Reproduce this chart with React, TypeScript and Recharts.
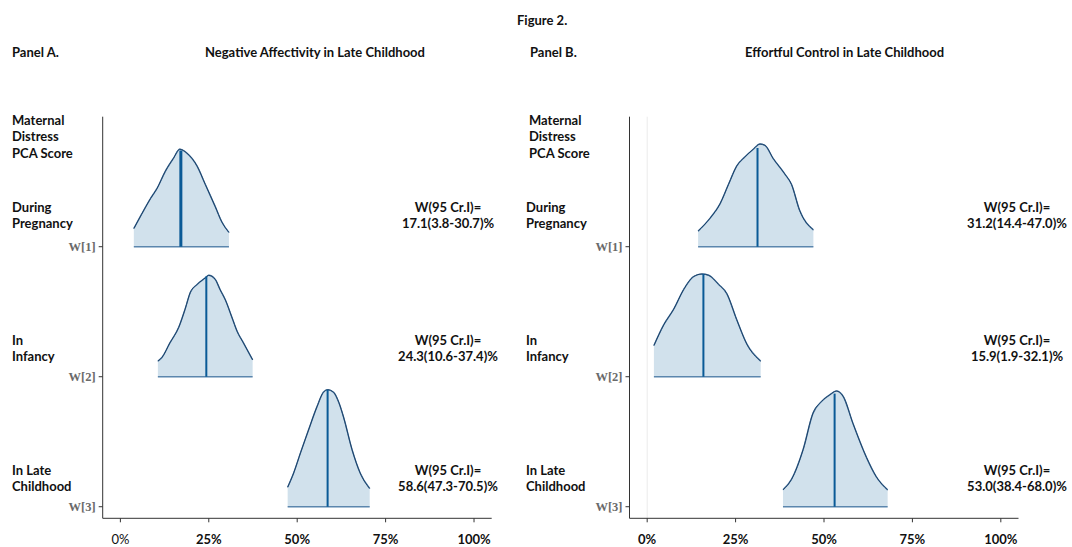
import React from 'react';
import { ComposedChart, Area, Line, XAxis, YAxis, ReferenceLine } from 'recharts';

// posterior weight densities, x in %, density scaled so that ridge spacing = 1
const pctTicks = [0, 25, 50, 75, 100];
const paramTicks = [1, 2, 3];
const paramNames: Record<number, string> = { 1: 'W[3]', 2: 'W[2]', 3: 'W[1]' };

// Panel A - Negative Affectivity
const naW1X = [3.8, 6.0, 8.5, 10.4, 12.7, 15.0, 16.8, 18.8, 21.7, 24.0, 26.8, 28.7, 30.7];
const naW1D = [0.14, 0.25, 0.37, 0.45, 0.58, 0.68, 0.75, 0.72, 0.62, 0.48, 0.31, 0.19, 0.11];
const naW2X = [10.6, 11.8, 14.0, 16.5, 18.3, 19.8, 21.7, 24.0, 25.0, 26.8, 28.2, 29.7, 31.5, 33.0, 34.8, 37.4];
const naW2D = [0.12, 0.15, 0.26, 0.38, 0.52, 0.65, 0.71, 0.76, 0.78, 0.75, 0.67, 0.59, 0.46, 0.35, 0.26, 0.13];
const naW3X = [47.3, 49.0, 51.0, 53.2, 55.6, 57.4, 58.6, 60.3, 61.8, 63.1, 65.5, 67.8, 70.5];
const naW3D = [0.15, 0.26, 0.42, 0.59, 0.77, 0.88, 0.9, 0.88, 0.8, 0.69, 0.44, 0.26, 0.14];
const naMedians = [17.1, 24.3, 58.6];
const naMedianD = [0.74, 0.77, 0.9];
const naLabels = ['17.1(3.8-30.7)%', '24.3(10.6-37.4)%', '58.6(47.3-70.5)%'];

// Panel B - Effortful Control
const ecW1X = [14.4, 17.8, 20.6, 23.0, 25.3, 27.6, 30.0, 31.9, 33.3, 35.6, 38.9, 40.8, 43.1, 47.0];
const ecW1D = [0.12, 0.22, 0.33, 0.48, 0.62, 0.69, 0.75, 0.79, 0.78, 0.68, 0.56, 0.48, 0.28, 0.13];
const ecW2X = [1.9, 4.7, 7.5, 10.3, 13.1, 15.5, 17.4, 20.2, 22.5, 25.3, 28.2, 32.1];
const ecW2D = [0.24, 0.4, 0.52, 0.67, 0.77, 0.79, 0.78, 0.71, 0.64, 0.44, 0.25, 0.12];
const ecW3X = [38.4, 40.8, 44.1, 46.9, 49.3, 51.6, 53.5, 55.4, 58.2, 62.0, 64.8, 68.0];
const ecW3D = [0.13, 0.21, 0.44, 0.72, 0.81, 0.86, 0.89, 0.85, 0.64, 0.38, 0.23, 0.13];
const ecMedians = [31.2, 15.9, 53.0];
const ecMedianD = [0.76, 0.79, 0.87];
const ecLabels = ['31.2(14.4-47.0)%', '15.9(1.9-32.1)%', '53.0(38.4-68.0)%'];

const rowTitles = [['During', 'Pregnancy'], ['In', 'Infancy'], ['In Late', 'Childhood']];
const rowTextY = [199, 332, 462];

const FONT = 'Lato, "Open Sans", sans-serif';

type Ridge = { xs: number[]; ds: number[]; base: number; median: number; medD: number; medWidth: number };

const makeRidges = (xs: number[][], ds: number[][], medians: number[], medD: number[], widths: number[]): Ridge[] =>
  xs.map((x, i) => ({ xs: x, ds: ds[i], base: 3 - i, median: medians[i], medD: medD[i], medWidth: widths[i] }));

const PctTick = (props: any) => {
  const { x, y, payload, lightZero } = props;
  return (
    <text x={x} y={y} dy="0.71em" textAnchor="middle" fill="#111" fontSize={13} fontFamily={FONT}
      fontWeight={lightZero && payload.value === 0 ? 400 : 700}>
      {`${payload.value}%`}
    </text>
  );
};

type PanelProps = { ridges: Ridge[]; left: number; right: number; lightZero?: boolean; zeroLine?: boolean };

const Panel = ({ ridges, left, right, lightZero, zeroLine }: PanelProps) => (
  <ComposedChart width={536} height={547} margin={{ top: 116.7, right, bottom: 3.7, left }}>
    <XAxis type="number" dataKey="x" domain={[-5, 105]} ticks={pctTicks} allowDataOverflow height={25}
      tickSize={4} tickMargin={12} stroke="#333" tick={<PctTick lightZero={lightZero} />} />
    <YAxis type="number" domain={[0.911, 4]} ticks={paramTicks} allowDataOverflow width={60}
      tickSize={4} tickMargin={3} stroke="#333"
      tickFormatter={(v: number) => paramNames[v]}
      tick={{ fill: '#6a6a6a', fontSize: 12.5, fontFamily: '"Liberation Serif", serif', fontWeight: 700 }} />
    {zeroLine && <ReferenceLine x={0} stroke="#ebebeb" strokeWidth={1} />}
    {ridges.map((r, i) => {
      const rows = r.xs.map((x, j) => ({ x, d: r.ds[j] }));
      const med = [{ x: r.median, y: r.base }, { x: r.median, y: r.base + r.medD }];
      return [
        <Area key={`a${i}`} data={rows} type="monotone" dataKey={(p: any) => [r.base, r.base + p.d]}
          stroke="#5b86ad" strokeWidth={1.5} fill="#d1e1ec" fillOpacity={1} dot={false} activeDot={false}
          isAnimationActive={false} />,
        <Line key={`l${i}`} data={rows} type="monotone" dataKey={(p: any) => r.base + p.d}
          stroke="#1b3f66" strokeWidth={1} dot={false} activeDot={false} isAnimationActive={false} />,
        <Line key={`m${i}`} data={med} type="linear" dataKey="y"
          stroke="#0a5a96" strokeWidth={r.medWidth} dot={false} activeDot={false} isAnimationActive={false} />,
      ];
    })}
  </ComposedChart>
);

const Txt = ({ x, y, lines, center }: { x: number; y: number; lines: string[]; center?: boolean }) => (
  <div style={{
    position: 'absolute', left: center ? x - 80 : x, top: y, width: center ? 160 : undefined,
    textAlign: center ? 'center' : 'left', font: `700 13px ${FONT}`, lineHeight: '16.3px',
    color: '#111', whiteSpace: 'nowrap',
  }}>
    {lines.map((l) => <div key={l}>{l}</div>)}
  </div>
);

export default function App() {
  const naRidges = makeRidges([naW1X, naW2X, naW3X], [naW1D, naW2D, naW3D], naMedians, naMedianD, [3, 2, 2]);
  const ecRidges = makeRidges([ecW1X, ecW2X, ecW3X], [ecW1D, ecW2D, ecW3D], ecMedians, ecMedianD, [2, 2, 2]);
  return (
    <div style={{ position: 'absolute', left: 0, top: 0, width: 1072, height: 547, background: '#fff', overflow: 'hidden' }}>
      <div style={{ position: 'absolute', left: 0, top: 0 }}>
        <Panel ridges={naRidges} left={42.7} right={44.3} lightZero />
      </div>
      <div style={{ position: 'absolute', left: 536, top: 0 }}>
        <Panel ridges={ecRidges} left={33.5} right={53.5} zeroLine />
      </div>

      <Txt x={517} y={12} lines={['Figure 2.']} />
      <Txt x={12} y={44} lines={['Panel A.']} />
      <Txt x={205} y={44} lines={['Negative Affectivity in Late Childhood']} />
      <Txt x={530} y={44} lines={['Panel B.']} />
      <Txt x={745} y={44} lines={['Effortful Control in Late Childhood']} />

      <Txt x={12} y={112} lines={['Maternal', 'Distress', 'PCA Score']} />
      <Txt x={529} y={112} lines={['Maternal', 'Distress', 'PCA Score']} />
      {rowTitles.map((t, i) => (
        <React.Fragment key={i}>
          <Txt x={12} y={rowTextY[i]} lines={t} />
          <Txt x={526} y={rowTextY[i]} lines={t} />
          <Txt x={448} y={rowTextY[i]} lines={['W(95 Cr.I)=', naLabels[i]]} center />
          <Txt x={1017} y={rowTextY[i]} lines={['W(95 Cr.I)=', ecLabels[i]]} center />
        </React.Fragment>
      ))}
    </div>
  );
}
